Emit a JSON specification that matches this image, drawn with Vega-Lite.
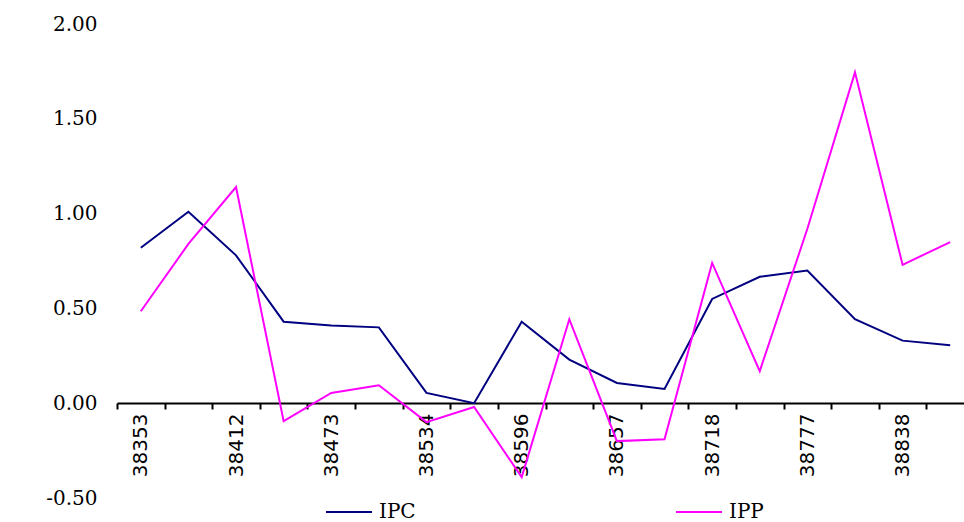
{
  "$schema": "https://vega.github.io/schema/vega-lite/v6.json",
  "width": 857,
  "height": 474,
  "autosize": "none",
  "padding": {"left": 117, "top": 24, "right": -10, "bottom": 24},
  "background": "white",
  "config": {"view": {"stroke": null}},
  "data": {
    "values": [
      {"date": "38353", "series": "IPC", "value": 0.82},
      {"date": "38384", "series": "IPC", "value": 1.01},
      {"date": "38412", "series": "IPC", "value": 0.78},
      {"date": "38443", "series": "IPC", "value": 0.43},
      {"date": "38473", "series": "IPC", "value": 0.41},
      {"date": "38504", "series": "IPC", "value": 0.40},
      {"date": "38534", "series": "IPC", "value": 0.054},
      {"date": "38565", "series": "IPC", "value": 0.0},
      {"date": "38596", "series": "IPC", "value": 0.43},
      {"date": "38626", "series": "IPC", "value": 0.23},
      {"date": "38657", "series": "IPC", "value": 0.107},
      {"date": "38687", "series": "IPC", "value": 0.075},
      {"date": "38718", "series": "IPC", "value": 0.55},
      {"date": "38749", "series": "IPC", "value": 0.667},
      {"date": "38777", "series": "IPC", "value": 0.70},
      {"date": "38808", "series": "IPC", "value": 0.443},
      {"date": "38838", "series": "IPC", "value": 0.33},
      {"date": "38869", "series": "IPC", "value": 0.306},
      {"date": "38353", "series": "IPP", "value": 0.485},
      {"date": "38384", "series": "IPP", "value": 0.84},
      {"date": "38412", "series": "IPP", "value": 1.14},
      {"date": "38443", "series": "IPP", "value": -0.095},
      {"date": "38473", "series": "IPP", "value": 0.054},
      {"date": "38504", "series": "IPP", "value": 0.095},
      {"date": "38534", "series": "IPP", "value": -0.10},
      {"date": "38565", "series": "IPP", "value": -0.02},
      {"date": "38596", "series": "IPP", "value": -0.39},
      {"date": "38626", "series": "IPP", "value": 0.443},
      {"date": "38657", "series": "IPP", "value": -0.20},
      {"date": "38687", "series": "IPP", "value": -0.19},
      {"date": "38718", "series": "IPP", "value": 0.74},
      {"date": "38749", "series": "IPP", "value": 0.169},
      {"date": "38777", "series": "IPP", "value": 0.92},
      {"date": "38808", "series": "IPP", "value": 1.745},
      {"date": "38838", "series": "IPP", "value": 0.73},
      {"date": "38869", "series": "IPP", "value": 0.85}
    ]
  },
  "mark": {"type": "line", "strokeWidth": 2},
  "encoding": {
    "x": {
      "field": "date",
      "type": "ordinal",
      "sort": null,
      "bandPosition": 0.5,
      "scale": {"type": "band", "paddingInner": 0, "paddingOuter": 0},
      "axis": {
        "title": null,
        "offset": -95,
        "tickBand": "extent",
        "labelAngle": -90,
        "labelFont": "DejaVu Sans",
        "labelFontSize": 20,
        "labelColor": "#000000",
        "labelPadding": 4,
        "labelExpr": "indexof(['38353','38412','38473','38534','38596','38657','38718','38777','38838'], datum.value) >= 0 ? datum.value : ''",
        "domainColor": "#000000",
        "domainWidth": 2,
        "tickColor": "#000000",
        "tickWidth": 2,
        "tickSize": 6,
        "grid": false,
        "zindex": 0
      }
    },
    "y": {
      "field": "value",
      "type": "quantitative",
      "scale": {"domain": [-0.5, 2], "nice": false, "zero": false},
      "axis": {
        "title": null,
        "values": [-0.5, 0, 0.5, 1, 1.5, 2],
        "labelExpr": "datum.value < 0 ? '-' + format(-datum.value, '.2f') : format(datum.value, '.2f')",
        "domain": false,
        "ticks": false,
        "grid": false,
        "labelFont": "DejaVu Serif",
        "labelFontSize": 20,
        "labelColor": "#000000",
        "labelPadding": 20
      }
    },
    "color": {
      "field": "series",
      "type": "nominal",
      "scale": {"domain": ["IPC", "IPP"], "range": ["#000080", "#FF00FF"]},
      "legend": {
        "title": null,
        "orient": "none",
        "legendX": 208,
        "legendY": 464,
        "direction": "horizontal",
        "columns": 2,
        "columnPadding": 256,
        "symbolType": "stroke",
        "symbolSize": 2116,
        "symbolStrokeWidth": 2,
        "labelFont": "DejaVu Serif",
        "labelFontSize": 20,
        "labelColor": "#000000",
        "labelOffset": 6
      }
    }
  }
}
